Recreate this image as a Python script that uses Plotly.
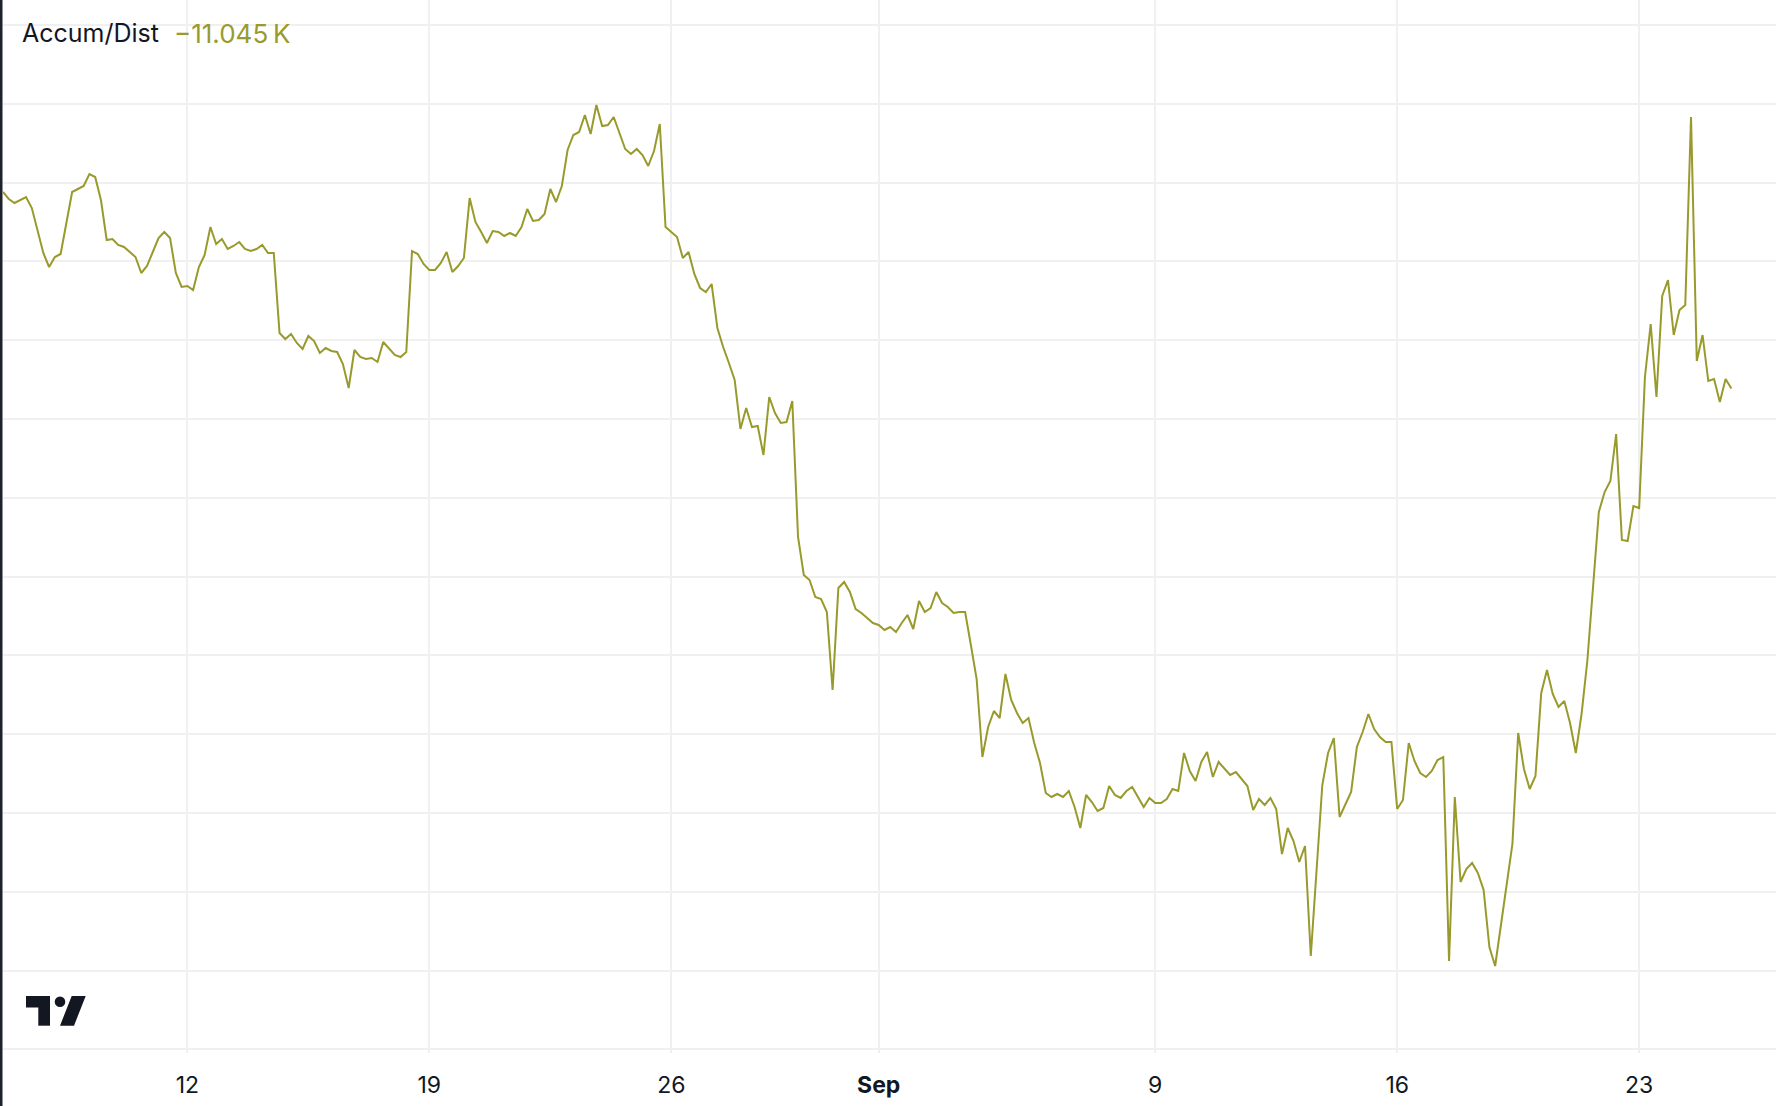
import pandas as pd
import plotly.graph_objects as go

# ---- data (4h bars, Accum/Dist in thousands) ----
start_time = "2024-08-06 16:00"
bar_freq = "4h"
ad_values_k = [
    -9.08, -9.15, -9.19, -9.16, -9.13, -9.24, -9.46, -9.69, -9.83, -9.73,
    -9.70, -9.39, -9.08, -9.05, -9.02, -8.90, -8.93, -9.16, -9.56, -9.55,
    -9.61, -9.63, -9.68, -9.73, -9.89, -9.82, -9.68, -9.54, -9.48, -9.54,
    -9.89, -10.03, -10.02, -10.06, -9.83, -9.71, -9.43, -9.60, -9.55, -9.65,
    -9.62, -9.58, -9.65, -9.67, -9.65, -9.61, -9.69, -9.69, -10.49, -10.55,
    -10.50, -10.59, -10.65, -10.52, -10.57, -10.69, -10.64, -10.67, -10.68, -10.80,
    -11.04, -10.66, -10.73, -10.75, -10.74, -10.78, -10.58, -10.64, -10.71, -10.73,
    -10.68, -9.67, -9.70, -9.80, -9.86, -9.86, -9.79, -9.68, -9.88, -9.82,
    -9.74, -9.14, -9.38, -9.48, -9.59, -9.47, -9.48, -9.52, -9.49, -9.52,
    -9.43, -9.25, -9.37, -9.36, -9.30, -9.05, -9.18, -9.02, -8.66, -8.51,
    -8.48, -8.31, -8.50, -8.21, -8.42, -8.41, -8.33, -8.49, -8.65, -8.70,
    -8.65, -8.71, -8.82, -8.67, -8.40, -9.43, -9.48, -9.53, -9.74, -9.68,
    -9.90, -10.04, -10.08, -10.00, -10.44, -10.63, -10.79, -10.96, -11.45, -11.24,
    -11.43, -11.42, -11.71, -11.13, -11.29, -11.39, -11.38, -11.17, -12.53, -12.91,
    -12.96, -13.13, -13.15, -13.28, -14.06, -13.04, -12.98, -13.08, -13.25, -13.29,
    -13.34, -13.39, -13.41, -13.46, -13.43, -13.48, -13.39, -13.31, -13.45, -13.17,
    -13.28, -13.24, -13.08, -13.19, -13.23, -13.29, -13.28, -13.28, -13.61, -13.95,
    -14.73, -14.43, -14.27, -14.34, -13.90, -14.16, -14.29, -14.39, -14.34, -14.59,
    -14.79, -15.09, -15.13, -15.10, -15.13, -15.07, -15.23, -15.44, -15.11, -15.18,
    -15.27, -15.24, -15.02, -15.11, -15.14, -15.07, -15.03, -15.13, -15.23, -15.14,
    -15.19, -15.19, -15.15, -15.05, -15.07, -14.69, -14.87, -14.97, -14.78, -14.68,
    -14.93, -14.78, -14.84, -14.91, -14.88, -14.95, -15.02, -15.26, -15.15, -15.21,
    -15.14, -15.25, -15.70, -15.44, -15.57, -15.78, -15.62, -16.72, -15.86, -15.01,
    -14.69, -14.54, -15.33, -15.21, -15.08, -14.63, -14.48, -14.30, -14.45, -14.53,
    -14.58, -14.58, -15.25, -15.16, -14.59, -14.77, -14.89, -14.93, -14.87, -14.76,
    -14.73, -16.77, -15.13, -15.98, -15.85, -15.79, -15.89, -16.06, -16.63, -16.82,
    -16.41, -16.05, -15.60, -14.49, -14.85, -15.05, -14.92, -14.09, -13.86, -14.10,
    -14.23, -14.17, -14.39, -14.69, -14.30, -13.77, -13.01, -12.28, -12.08, -11.97,
    -11.50, -12.56, -12.57, -12.22, -12.24, -10.93, -10.40, -11.13, -10.12, -9.96,
    -10.51, -10.26, -10.21, -8.33, -10.77, -10.51, -10.97, -10.95, -11.18, -10.95,
    -11.045,
]
tick_dates = ["2024-08-12", "2024-08-19", "2024-08-26", "2024-09-01",
              "2024-09-09", "2024-09-16", "2024-09-23"]
tick_labels = ["12", "19", "26", "<b>Sep</b>", "9", "16", "23"]
indicator_name = "Accum/Dist"
last_value_label = "\u221211.045\u2009K"

times = pd.date_range(start_time, periods=len(ad_values_k), freq=bar_freq)

# ---- styling ----
W, H = 1776, 1106
ML, MB = 3, 53
PW, PH = W - ML, H - MB
LINE_COLOR = "#999a2c"
GRID = "#f0f0f0"
TEXT = "#131722"
FONT = "Inter, Roboto, sans-serif"

fig = go.Figure()
fig.add_trace(go.Scatter(
    x=times, y=ad_values_k, mode="lines",
    line=dict(color=LINE_COLOR, width=2),
    hoverinfo="skip", showlegend=False,
))

def px_x(p):
    return (p - ML) / PW

def px_y(p):
    return 1 - p / PH

shapes = []
# dark left border
shapes.append(dict(type="rect", xref="paper", yref="paper",
                   x0=px_x(0), x1=px_x(2.5), y0=px_y(H), y1=px_y(0),
                   fillcolor="#1e222d", line=dict(width=0), layer="above"))
# TradingView logo
logo = "#131722"
shapes.append(dict(type="rect", xref="paper", yref="paper",
                   x0=px_x(26), x1=px_x(50), y0=px_y(1007.5), y1=px_y(996),
                   fillcolor=logo, line=dict(width=0)))
shapes.append(dict(type="rect", xref="paper", yref="paper",
                   x0=px_x(38.3), x1=px_x(50), y0=px_y(1025.7), y1=px_y(996),
                   fillcolor=logo, line=dict(width=0)))
shapes.append(dict(type="circle", xref="paper", yref="paper",
                   x0=px_x(54.7), x1=px_x(65.3), y0=px_y(1007), y1=px_y(996.4),
                   fillcolor=logo, line=dict(width=0)))
path = "M {} {} L {} {} L {} {} L {} {} Z".format(
    px_x(71.7), px_y(996), px_x(85.7), px_y(996),
    px_x(74), px_y(1025.7), px_x(60), px_y(1025.7))
shapes.append(dict(type="path", xref="paper", yref="paper", path=path,
                   fillcolor=logo, line=dict(width=0)))

annotations = [
    dict(text=indicator_name, xref="paper", yref="paper",
         x=px_x(20), y=px_y(33), xanchor="left", yanchor="middle",
         showarrow=False, font=dict(family=FONT, size=25, color=TEXT)),
    dict(text=last_value_label, xref="paper", yref="paper",
         x=px_x(172), y=px_y(33), xanchor="left", yanchor="middle",
         showarrow=False, font=dict(family=FONT, size=26, color=LINE_COLOR)),
]

y_top = -7.16
y_bot = y_top - PH / 100.0

fig.update_layout(
    width=W, height=H,
    margin=dict(l=ML, r=0, t=0, b=MB, pad=0),
    paper_bgcolor="white", plot_bgcolor="white",
    showlegend=False,
    shapes=shapes, annotations=annotations,
    font=dict(family=FONT, color=TEXT),
    xaxis=dict(
        type="date",
        range=["2024-08-06 16:00", "2024-09-26 23:00"],
        tickvals=tick_dates, ticktext=tick_labels,
        showgrid=True, gridcolor=GRID, gridwidth=2,
        ticks="", showline=False, zeroline=False,
        tickfont=dict(family=FONT, size=23, color=TEXT),
        ticklabelstandoff=16,
        fixedrange=True,
    ),
    yaxis=dict(
        range=[y_bot, y_top],
        tick0=-7.41, dtick=0.788,
        showgrid=True, gridcolor=GRID, gridwidth=2,
        showticklabels=False, ticks="", zeroline=False, showline=False,
        fixedrange=True,
    ),
)

fig.write_html("out.html", config={"displayModeBar": False},
               post_script="document.body.style.margin='0';document.body.style.overflow='hidden';")
